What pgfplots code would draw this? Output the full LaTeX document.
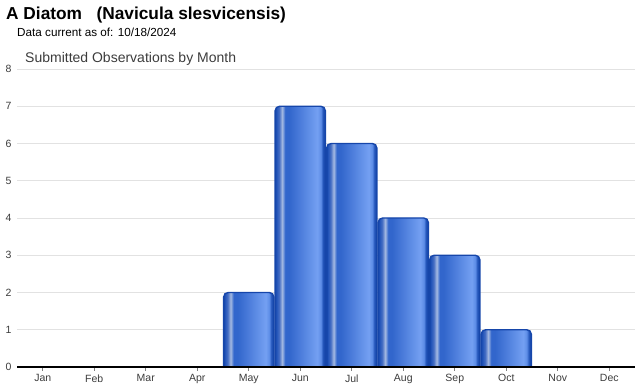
\documentclass[border=0pt]{standalone}
\usepackage{fontspec}
\setmainfont{Liberation Sans}
\usepackage{pgfplots}
\pgfplotsset{compat=1.18}
\definecolor{bedge}{RGB}{22,70,170}
\definecolor{bdark}{RGB}{36,86,186}
\definecolor{bpre}{RGB}{70,110,196}
\definecolor{bstripe}{RGB}{165,186,226}
\definecolor{bmid}{RGB}{50,102,204}
\definecolor{blight}{RGB}{116,160,242}
\definecolor{bright}{RGB}{92,140,230}
\definecolor{gridc}{RGB}{226,226,226}
\definecolor{labc}{RGB}{60,60,60}
\pgfdeclarehorizontalshading{barshade}{100bp}{color(0bp)=(bedge); color(25bp)=(bedge); color(26.5bp)=(bdark); color(29bp)=(bpre); color(32bp)=(bstripe); color(35bp)=(bmid); color(39bp)=(bmid); color(67bp)=(blight); color(70.5bp)=(bright); color(72.5bp)=(bdark); color(75bp)=(bedge); color(100bp)=(bedge)}
\makeatletter
\newdimen\rbxa \newdimen\rbya \newdimen\rbxb \newdimen\rbyb
\def\roundtoprect#1#2{%
  \pgf@process{#1}\rbxa=\pgf@x \rbya=\pgf@y
  \pgf@process{#2}\rbxb=\pgf@x \rbyb=\pgf@y
  \pgfpathmoveto{\pgfqpoint{\rbxa}{\rbya}}%
  \pgfpathlineto{\pgfqpoint{\rbxa}{\rbyb}}%
  \pgfpathlineto{\pgfqpoint{\rbxb}{\rbyb}}%
  \pgfpathlineto{\pgfqpoint{\rbxb}{\rbya}}%
}
\def\roundtoprectsize#1#2{%
  \pgf@process{#1}\rbxa=\pgf@x \rbya=\pgf@y
  \pgf@process{#2}\rbxb=\pgf@x \rbyb=\pgf@y
  \advance\rbxb by \rbxa \advance\rbyb by \rbya
  \pgfpathmoveto{\pgfqpoint{\rbxa}{\rbya}}%
  \pgfpathlineto{\pgfqpoint{\rbxa}{\rbyb}}%
  \pgfpathlineto{\pgfqpoint{\rbxb}{\rbyb}}%
  \pgfpathlineto{\pgfqpoint{\rbxb}{\rbya}}%
}
\makeatother
\pgfplotstableread{
x month count
0 Jan 0
1 Feb 0
2 Mar 0
3 Apr 0
4 May 2
5 Jun 7
6 Jul 6
7 Aug 4
8 Sep 3
9 Oct 1
10 Nov 0
11 Dec 0
}\obs
\begin{document}
\begin{tikzpicture}
\useasboundingbox (0,0) rectangle (640pt,390pt);
\node[anchor=base west, inner sep=0pt, font=\fontsize{17.3}{20}\selectfont\bfseries] at (6pt,370pt) {A Diatom\ \ \ (Navicula slesvicensis)};
\node[anchor=base west, inner sep=0pt, font=\fontsize{11.7}{13}\selectfont] at (17pt,353pt) {Data current as of: 10/18/2024};
\node[anchor=base west, inner sep=0pt, font=\fontsize{14}{16}\selectfont, text=labc] at (25pt,327pt) {Submitted Observations by Month};
\begin{axis}[
  at={(17pt,23pt)}, anchor=south west,
  scale only axis, width=618pt, height=298pt,
  xmin=-0.5, xmax=11.5, ymin=0, ymax=8,
  separate axis lines,
  axis x line*=bottom, axis y line*=left,
  x axis line style={draw=none},
  y axis line style={draw=none},
  ytick={0,...,8},
  ymajorgrids, grid style={gridc, line width=0.8pt},
  ytick style={draw=none},
  xtick={0,...,11}, xticklabels={Jan,Feb,Mar,Apr,May,Jun,Jul,Aug,Sep,Oct,Nov,Dec},
  xtick style={draw=gray, line width=0.6pt},
  tick align=outside, major tick length=4pt,
  tick label style={font=\fontsize{10.5}{12}\selectfont, text=labc},
  yticklabel style={xshift=2pt},
  /pgf/number format/assume math mode=true,
  clip=false,
]
\pgfplotsinvokeforeach{4,...,9}{
\addplot[ybar, bar width=0.975, bar shift=0pt, draw=bedge, line width=1.4pt,
  shading=barshade, rounded corners=4.5pt,
  /utils/exec={\let\pgfpathrectanglecorners\roundtoprect\let\pgfpathrectangle\roundtoprectsize},
  restrict x to domain=#1:#1, restrict y to domain=0.5:100]
  table[x=x, y=count] {\obs};
}
\draw[black, line width=1.5pt] (rel axis cs:0,0) -- (rel axis cs:1,0);
\end{axis}
\end{tikzpicture}
\end{document}
